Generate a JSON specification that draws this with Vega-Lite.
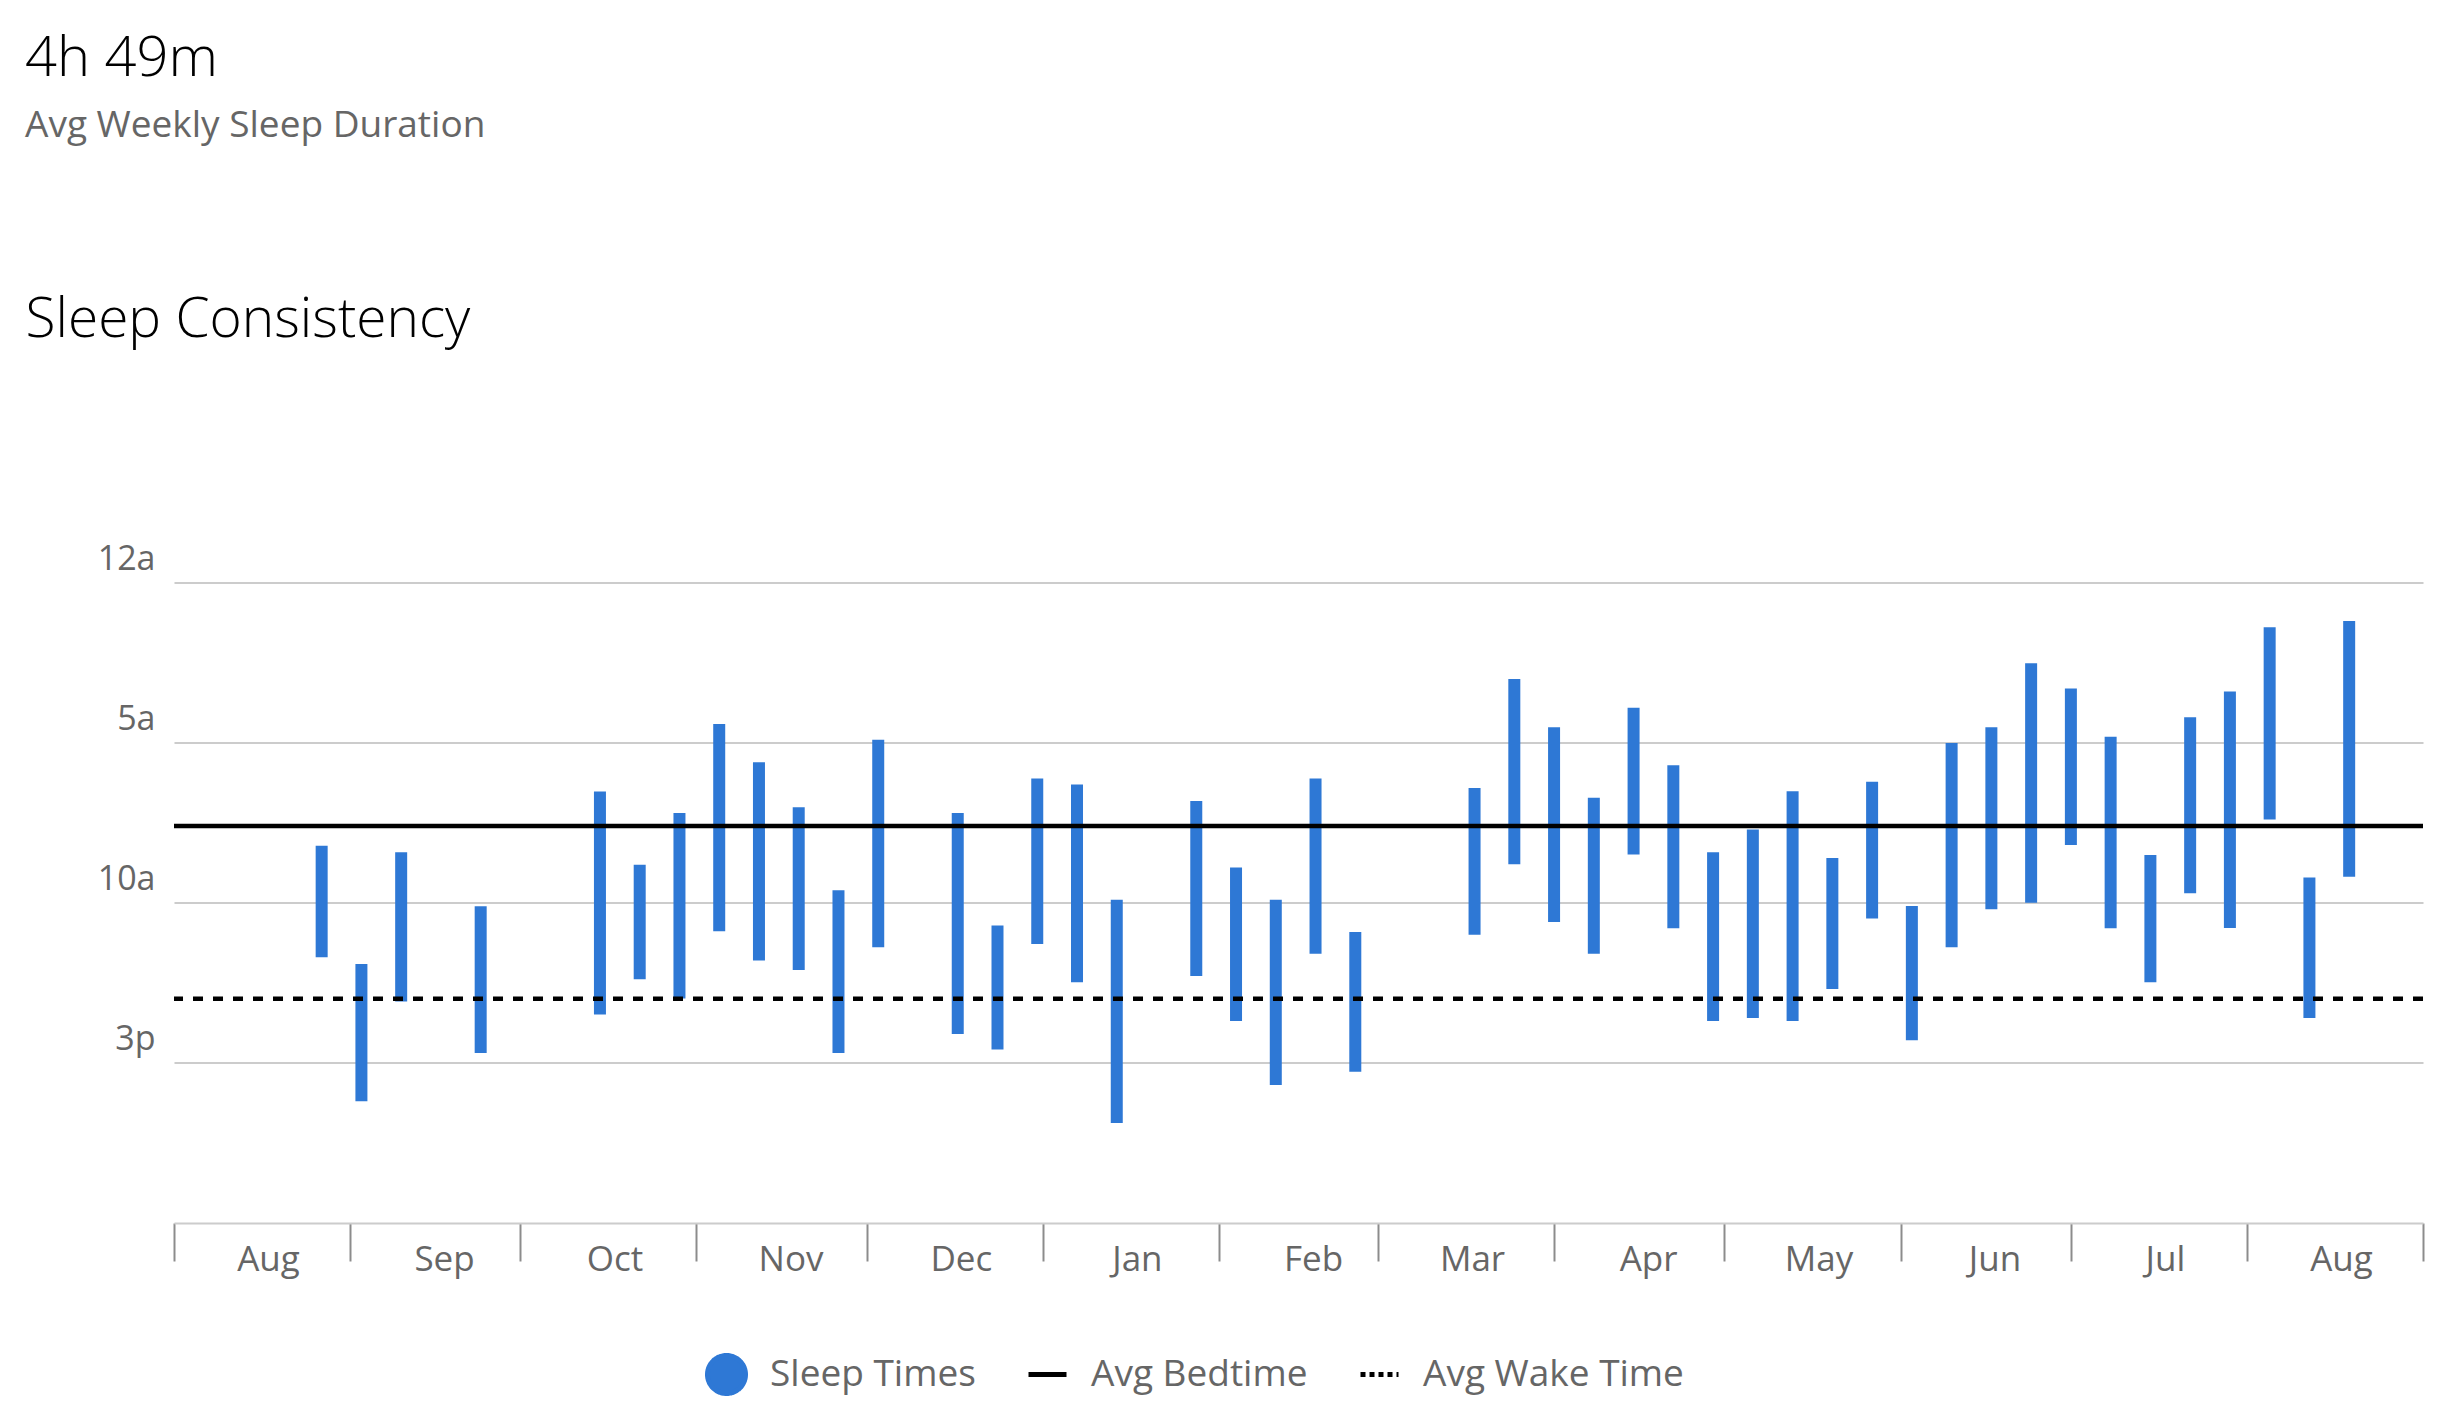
{
  "$schema": "https://vega.github.io/schema/vega-lite/v6.json",
  "width": 2249,
  "height": 640.5,
  "autosize": {"type": "none"},
  "padding": {"left": 174, "top": 582.5, "right": 39, "bottom": 205},
  "background": "white",
  "config": {"font": "Open Sans", "view": {"stroke": null}},
  "title": {
    "text": "4h 49m",
    "subtitle": "Avg Weekly Sleep Duration",
    "anchor": "start",
    "frame": "group",
    "dx": -149,
    "offset": 148,
    "font": "Open Sans",
    "fontSize": 56,
    "fontWeight": 300,
    "color": "#000000",
    "subtitleFont": "Open Sans",
    "subtitleFontSize": 37,
    "subtitleColor": "#666666",
    "subtitlePadding": 20
  },
  "datasets": {
    "sleep": [
      {"week": "2022-08-27", "bed": 8.22, "wake": 11.70},
      {"week": "2022-09-03", "bed": 11.91, "wake": 16.20},
      {"week": "2022-09-10", "bed": 8.42, "wake": 13.08},
      {"week": "2022-09-24", "bed": 10.11, "wake": 14.69},
      {"week": "2022-10-15", "bed": 6.53, "wake": 13.49},
      {"week": "2022-10-22", "bed": 8.81, "wake": 12.39},
      {"week": "2022-10-29", "bed": 7.20, "wake": 12.99},
      {"week": "2022-11-05", "bed": 4.42, "wake": 10.89},
      {"week": "2022-11-12", "bed": 5.61, "wake": 11.80},
      {"week": "2022-11-19", "bed": 7.02, "wake": 12.10},
      {"week": "2022-11-26", "bed": 9.61, "wake": 14.69},
      {"week": "2022-12-03", "bed": 4.91, "wake": 11.39},
      {"week": "2022-12-17", "bed": 7.20, "wake": 14.10},
      {"week": "2022-12-24", "bed": 10.71, "wake": 14.58},
      {"week": "2022-12-31", "bed": 6.12, "wake": 11.29},
      {"week": "2023-01-07", "bed": 6.31, "wake": 12.48},
      {"week": "2023-01-14", "bed": 9.91, "wake": 16.88},
      {"week": "2023-01-28", "bed": 6.82, "wake": 12.29},
      {"week": "2023-02-04", "bed": 8.90, "wake": 13.69},
      {"week": "2023-02-11", "bed": 9.91, "wake": 15.69},
      {"week": "2023-02-18", "bed": 6.12, "wake": 11.59},
      {"week": "2023-02-25", "bed": 10.91, "wake": 15.28},
      {"week": "2023-03-18", "bed": 6.42, "wake": 11.00},
      {"week": "2023-03-25", "bed": 3.01, "wake": 8.80},
      {"week": "2023-04-01", "bed": 4.52, "wake": 10.60},
      {"week": "2023-04-08", "bed": 6.72, "wake": 11.59},
      {"week": "2023-04-15", "bed": 3.91, "wake": 8.49},
      {"week": "2023-04-22", "bed": 5.71, "wake": 10.80},
      {"week": "2023-04-29", "bed": 8.42, "wake": 13.69},
      {"week": "2023-05-06", "bed": 7.71, "wake": 13.60},
      {"week": "2023-05-13", "bed": 6.52, "wake": 13.69},
      {"week": "2023-05-20", "bed": 8.60, "wake": 12.69},
      {"week": "2023-05-27", "bed": 6.22, "wake": 10.49},
      {"week": "2023-06-03", "bed": 10.10, "wake": 14.29},
      {"week": "2023-06-10", "bed": 5.01, "wake": 11.39},
      {"week": "2023-06-17", "bed": 4.52, "wake": 10.20},
      {"week": "2023-06-24", "bed": 2.52, "wake": 10.00},
      {"week": "2023-07-01", "bed": 3.31, "wake": 8.20},
      {"week": "2023-07-08", "bed": 4.82, "wake": 10.80},
      {"week": "2023-07-15", "bed": 8.51, "wake": 12.48},
      {"week": "2023-07-22", "bed": 4.21, "wake": 9.70},
      {"week": "2023-07-29", "bed": 3.40, "wake": 10.79},
      {"week": "2023-08-05", "bed": 1.40, "wake": 7.40},
      {"week": "2023-08-12", "bed": 9.21, "wake": 13.60},
      {"week": "2023-08-19", "bed": 1.20, "wake": 9.19}
    ],
    "averages": [
      {"series": "Avg Bedtime", "hour": 7.6},
      {"series": "Avg Wake Time", "hour": 13.0}
    ]
  },
  "layer": [
    {
      "data": {"name": "sleep"},
      "mark": {"type": "rule", "strokeWidth": 12, "strokeCap": "butt"},
      "encoding": {
        "x": {
          "field": "week",
          "type": "temporal",
          "scale": {
            "type": "utc",
            "nice": false,
            "domain": [
              {"year": 2022, "month": 8, "date": 1, "utc": true},
              {"year": 2023, "month": 9, "date": 1, "utc": true}
            ]
          },
          "axis": {
            "title": null,
            "grid": false,
            "values": [
              {"year": 2022, "month": 8, "date": 1, "utc": true},
              {"year": 2022, "month": 9, "date": 1, "utc": true},
              {"year": 2022, "month": 10, "date": 1, "utc": true},
              {"year": 2022, "month": 11, "date": 1, "utc": true},
              {"year": 2022, "month": 12, "date": 1, "utc": true},
              {"year": 2023, "month": 1, "date": 1, "utc": true},
              {"year": 2023, "month": 2, "date": 1, "utc": true},
              {"year": 2023, "month": 3, "date": 1, "utc": true},
              {"year": 2023, "month": 4, "date": 1, "utc": true},
              {"year": 2023, "month": 5, "date": 1, "utc": true},
              {"year": 2023, "month": 6, "date": 1, "utc": true},
              {"year": 2023, "month": 7, "date": 1, "utc": true},
              {"year": 2023, "month": 8, "date": 1, "utc": true},
              {"year": 2023, "month": 9, "date": 1, "utc": true}
            ],
            "labelExpr": "datum.value > 1693000000000 ? '' : utcFormat(datum.value, '%b')",
            "domain": true,
            "domainColor": "#cccccc",
            "domainWidth": 2,
            "ticks": true,
            "tickColor": "#8c8c8c",
            "tickWidth": 2,
            "tickSize": 38,
            "labelAlign": "center",
            "labelBaseline": "alphabetic",
            "labelOffset": 94,
            "labelPadding": 9,
            "labelFont": "Open Sans",
            "labelFontSize": 35,
            "labelColor": "#666666",
            "labelFlush": false,
            "labelOverlap": false,
            "labelBound": false
          }
        },
        "y": {
          "field": "bed",
          "type": "quantitative",
          "scale": {"domain": [0, 20], "reverse": true, "nice": false, "zero": false},
          "axis": {
            "values": [0, 5, 10, 15],
            "labelExpr": "datum.value == 0 ? '12a' : datum.value == 5 ? '5a' : datum.value == 10 ? '10a' : '3p'",
            "title": "Sleep Consistency",
            "titleAngle": 0,
            "titleAlign": "left",
            "titleBaseline": "alphabetic",
            "titleX": -149,
            "titleY": -246,
            "titleFont": "Open Sans",
            "titleFontSize": 55,
            "titleFontWeight": 300,
            "titleColor": "#000000",
            "grid": true,
            "gridColor": "#cccccc",
            "gridWidth": 2,
            "domain": false,
            "ticks": false,
            "tickSize": 0,
            "labelPadding": 19,
            "labelFont": "Open Sans",
            "labelFontSize": 34,
            "labelColor": "#666666",
            "labelBaseline": "alphabetic",
            "labelOffset": -13
          }
        },
        "y2": {"field": "wake"},
        "color": {
          "datum": "Sleep Times",
          "type": "nominal",
          "title": null,
          "scale": {
            "domain": ["Sleep Times", "Avg Bedtime", "Avg Wake Time"],
            "range": ["#2e78d5", "#000000", "#000000"]
          },
          "legend": {
            "orient": "none",
            "legendX": 531,
            "legendY": 770,
            "direction": "horizontal",
            "title": null,
            "labelFont": "Open Sans",
            "labelFontSize": 37,
            "labelColor": "#666666",
            "labelLimit": 0,
            "symbolSize": 1444,
            "symbolStrokeWidth": 5,
            "labelOffset": 22,
            "columnPadding": 50,
            "clipHeight": 44,
            "encode": {
              "symbols": {
                "update": {
                  "shape": {"signal": "datum.value === 'Sleep Times' ? 'circle' : 'stroke'"},
                  "fill": {"signal": "datum.value === 'Sleep Times' ? '#2e78d5' : 'transparent'"},
                  "stroke": {"signal": "datum.value === 'Sleep Times' ? 'transparent' : '#000000'"},
                  "strokeDash": {"signal": "datum.value === 'Avg Wake Time' ? [5, 4] : [1, 0]"},
                  "strokeWidth": {"value": 5},
                  "opacity": {"value": 1}
                }
              }
            }
          }
        }
      }
    },
    {
      "data": {"name": "averages"},
      "mark": {"type": "rule", "strokeWidth": 4.5},
      "encoding": {
        "y": {"field": "hour", "type": "quantitative"},
        "color": {"field": "series", "type": "nominal", "title": null},
        "strokeDash": {
          "field": "series",
          "type": "nominal",
          "scale": {"domain": ["Avg Bedtime", "Avg Wake Time"], "range": [[1, 0], [10, 10]]},
          "legend": null
        }
      }
    }
  ]
}
